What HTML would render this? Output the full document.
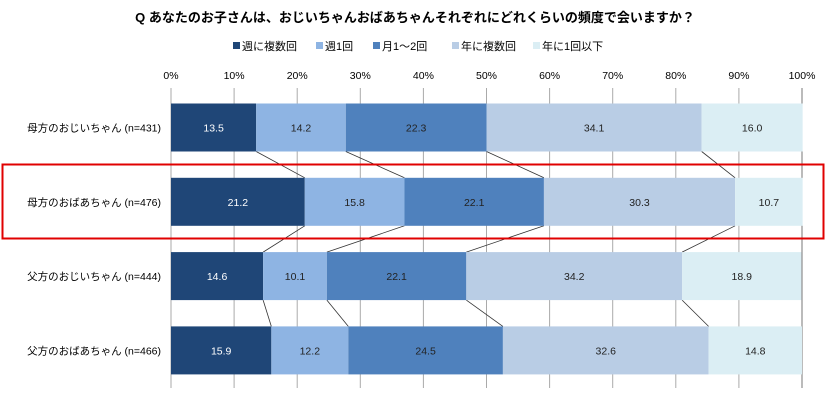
<!DOCTYPE html>
<html><head><meta charset="utf-8"><style>
body{margin:0;background:#fff;width:831px;height:403px;overflow:hidden;font-family:"Liberation Sans","Noto Sans CJK JP",sans-serif}
</style></head><body>
<svg width="831" height="403" id="c" xmlns="http://www.w3.org/2000/svg"></svg>
<script>
const categories=["母方のおじいちゃん (n=431)","母方のおばあちゃん (n=476)","父方のおじいちゃん (n=444)","父方のおばあちゃん (n=466)"];
const seriesNames=["週に複数回","週1回","月1～2回","年に複数回","年に1回以下"];
const s1=[13.5,21.2,14.6,15.9];
const s2=[14.2,15.8,10.1,12.2];
const s3=[22.3,22.1,22.1,24.5];
const s4=[34.1,30.3,34.2,32.6];
const s5=[16.0,10.7,18.9,14.8];
const tickLabels=["0%","10%","20%","30%","40%","50%","60%","70%","80%","90%","100%"];
const series=[s1,s2,s3,s4,s5];
const colors=["#1F4677","#8EB4E3","#4F81BD","#B9CDE5","#DBEEF4"];
const textCol=["#fff","#222","#222","#222","#222"];
const svg=document.getElementById('c');const NS="http://www.w3.org/2000/svg";
function mk(t,a,p){const e=document.createElementNS(NS,t);for(const k in a)e.setAttribute(k,a[k]);(p||svg).appendChild(e);return e;}
const x0=171,x1=802,yTop=88,yBot=388;
const X=v=>x0+(x1-x0)*v/100;
const rowC=i=>127.5+i*74.3;const bh=48;
let t=mk('text',{x:415,y:22,'text-anchor':'middle','font-size':13,'font-weight':'bold',fill:'#000'});
t.textContent="Q あなたのお子さんは、おじいちゃんおばあちゃんそれぞれにどれくらいの頻度で会いますか？";

const legX=[233,316,373,452,533];
seriesNames.forEach((n,i)=>{
 const g=mk('g',{});
 
 mk('rect',{x:legX[i],y:42,width:7,height:7,fill:colors[i]},g);
 const tt=mk('text',{x:legX[i]+9,y:50,'font-size':11,fill:'#000'},g);tt.textContent=n;
});
tickLabels.forEach((l,i)=>{
 const v=i*10;
 const ln=mk('line',{x1:X(v),x2:X(v),y1:yTop,y2:yBot,stroke:i==10?'#777':'#aaa','stroke-width':1});
 
 const tt=mk('text',{x:X(v),y:79,'text-anchor':'middle','font-size':10.5,fill:'#000'});tt.textContent=l;
 
});
for(let i=0;i<categories.length-1;i++){
 let ca=0,cb=0;
 for(let k=0;k<4;k++){ca+=series[k][i];cb+=series[k][i+1];
  const l=mk('line',{x1:X(ca),y1:rowC(i)+bh/2,x2:X(cb),y2:rowC(i+1)-bh/2,stroke:'#333','stroke-width':0.8});
  }
}
categories.forEach((c,i)=>{
 const tt=mk('text',{x:161,y:rowC(i)+4,'text-anchor':'end','font-size':10.5,fill:'#000'});tt.textContent=c;
 
 let cum=0;
 series.forEach((s,k)=>{
  const r=mk('rect',{x:X(cum),y:rowC(i)-bh/2,width:X(cum+s[i])-X(cum),height:bh,fill:colors[k]});
  
  const lt=mk('text',{x:(X(cum)+X(cum+s[i]))/2,y:rowC(i)+4,'text-anchor':'middle','font-size':10.5,fill:textCol[k]});
  lt.textContent=s[i].toFixed(1);
  
  cum+=s[i];
 });
});
const hb=mk('rect',{x:2.5,y:164.5,width:821,height:74,fill:'none',stroke:'#e00000','stroke-width':2});

</script>
</body></html>
